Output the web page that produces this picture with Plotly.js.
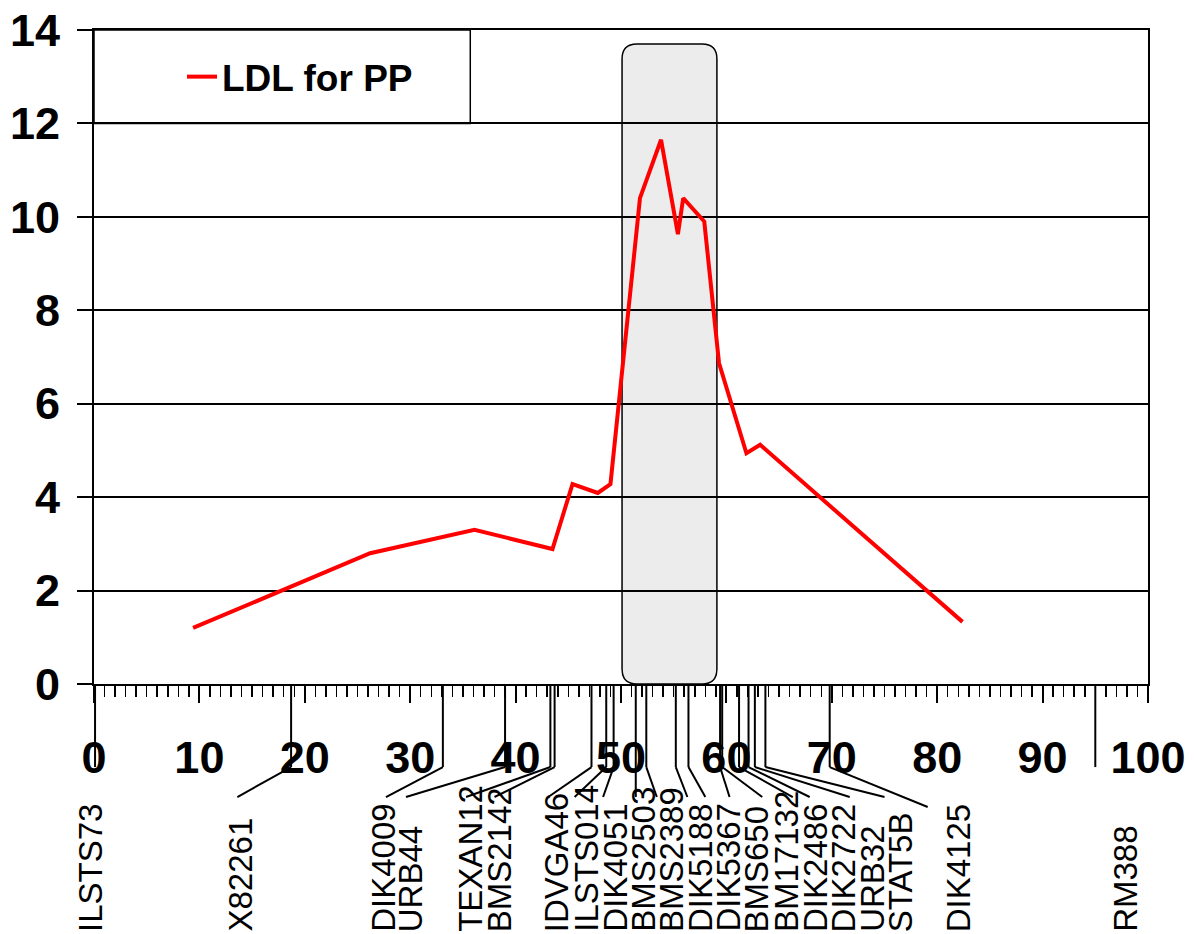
<!DOCTYPE html>
<html>
<head>
<meta charset="utf-8">
<script src="https://cdn.plot.ly/plotly-3.0.1.min.js"></script>
<style>html,body{margin:0;padding:0;background:#fff;}#chart{width:1196px;height:934px;}</style>
</head>
<body>
<div id="chart"></div>
<script>
// LDL curve (position in cM, statistic)
const ldlX = [9.4, 26.2, 36.1, 43.5, 45.4, 47.8, 49.0, 51.8, 53.8, 55.4, 55.9, 57.9, 59.3, 61.9, 63.2, 82.4];
const ldlY = [1.2, 2.8, 3.3, 2.89, 4.28, 4.09, 4.28, 10.4, 11.65, 9.63, 10.4, 9.9, 6.87, 4.94, 5.12, 1.33];
const seriesName = 'LDL for PP';

// Marker map
const markerNames = ['ILSTS73','X82261','DIK4009','URB44','TEXAN12','BMS2142','IDVGA46','ILSTS014','DIK4051','BMS2503','BMS2389','DIK5188','DIK5367','BMS650','BM17132','DIK2486','DIK2722','URB32','STAT5B','DIK4125','RM388'];
const markerPos   = [0.1, 18.7, 33.1, 39.0, 43.3, 43.7, 47.2, 48.6, 49.3, 51.4, 52.4, 55.2, 56.4, 59.4, 59.6, 61.2, 62.1, 62.7, 63.7, 69.8, 95.0];
// where each marker's name is written along the map (cM scale)
const labelPos    = [0.0, 13.9, 27.4, 30.0, 35.7, 38.5, 43.9, 46.7, 49.4, 52.1, 54.8, 57.5, 60.2, 62.9, 65.7, 68.4, 71.1, 73.8, 76.5, 82.0, 97.8];
// where each connector line meets its name (cM scale); null = no connector
const connectorEnd = [null, 13.6, 27.7, 29.6, 35.3, 38.0, 43.1, 45.6, 48.3, 51.4, 53.4, 56.3, 58.0, 60.3, 63.4, 66.3, 67.9, 71.7, 75.0, 79.1, null];

// highlighted QTL interval
const qtlStart = 50.1, qtlEnd = 59.1, qtlTop = 13.7;

const xTicks = [0,10,20,30,40,50,60,70,80,90,100];
const yTicks = [0,2,4,6,8,10,12,14];

const boldFont = {family: '"Liberation Sans", Arial, sans-serif', size: 45, color: '#000', weight: 700};

const trace = {
  x: ldlX, y: ldlY, type: 'scatter', mode: 'lines', name: seriesName,
  line: {color: '#ff0000', width: 4}
};

const shapes = [];
// QTL rounded box
const rx = 1.4, ry = 0.32;
shapes.push({
  type: 'path', xref: 'x', yref: 'y', layer: 'below',
  path: `M ${qtlStart+rx},0 L ${qtlEnd-rx},0 Q ${qtlEnd},0 ${qtlEnd},${ry} L ${qtlEnd},${qtlTop-ry} Q ${qtlEnd},${qtlTop} ${qtlEnd-rx},${qtlTop} L ${qtlStart+rx},${qtlTop} Q ${qtlStart},${qtlTop} ${qtlStart},${qtlTop-ry} L ${qtlStart},${ry} Q ${qtlStart},0 ${qtlStart+rx},0 Z`,
  fillcolor: '#ececec', line: {color: '#000', width: 1.5}
});
// legend frame
shapes.push({type: 'rect', xref: 'x', yref: 'y', x0: 0, x1: 35.7, y0: 12, y1: 14, line: {color: '#000', width: 1.5}, fillcolor: 'rgba(0,0,0,0)', layer: 'above'});

const bendY = -0.127, endY = -0.1728;
const annotations = [];
markerNames.forEach((nm, i) => {
  const p = markerPos[i];
  const e = connectorEnd[i];
  const eY = (nm === 'DIK4125') ? -0.188 : endY;
  shapes.push({type: 'line', xref: 'x', yref: 'paper', x0: p, x1: p, y0: 0, y1: (e === p) ? eY : bendY, line: {color: '#000', width: 2}});
  if (e !== null && e !== p) {
    shapes.push({type: 'line', xref: 'x', yref: 'paper', x0: p, x1: e, y0: bendY, y1: eY, line: {color: '#000', width: 2}});
  }
  annotations.push({
    text: nm, xref: 'x', yref: 'paper', x: labelPos[i], y: -0.3823,
    xshift: (i === 0) ? -4 : 0,
    xanchor: 'center', yanchor: 'bottom', textangle: -90, showarrow: false,
    font: {family: '"Liberation Sans", Arial, sans-serif', size: 33, color: '#000'}
  });
});

const layout = {
  width: 1196, height: 934,
  margin: {l: 94, r: 48, t: 30, b: 250},
  paper_bgcolor: '#fff', plot_bgcolor: '#fff',
  showlegend: true,
  legend: {x: 0.0835, y: 0.928, xanchor: 'left', yanchor: 'middle', bgcolor: 'rgba(0,0,0,0)', borderwidth: 0,
           font: {family: '"Liberation Sans", Arial, sans-serif', size: 37, color: '#000', weight: 700}},
  xaxis: {
    range: [0, 100], tickmode: 'array', tickvals: xTicks, ticktext: xTicks.map(String),
    ticks: 'outside', ticklen: 17, tickwidth: 2, tickcolor: '#000',
    minor: {dtick: 1, tick0: 0, ticks: 'outside', ticklen: 11, tickwidth: 1.5, tickcolor: '#000', showgrid: false},
    showgrid: false, zeroline: false, showline: true, mirror: true, linecolor: '#000', linewidth: 2,
    tickfont: boldFont, ticklabelstandoff: 16, fixedrange: true
  },
  yaxis: {
    range: [0, 14], tickmode: 'array', tickvals: yTicks, ticktext: yTicks.map(String),
    ticks: 'outside', ticklen: 15, tickwidth: 2, tickcolor: '#000',
    showgrid: true, gridcolor: '#000', gridwidth: 2, zeroline: false,
    showline: true, mirror: true, linecolor: '#000', linewidth: 2,
    tickfont: boldFont, ticklabelstandoff: 8, fixedrange: true
  },
  shapes: shapes,
  annotations: annotations
};

Plotly.newPlot('chart', [trace], layout, {displayModeBar: false, staticPlot: true});
</script>
</body>
</html>
